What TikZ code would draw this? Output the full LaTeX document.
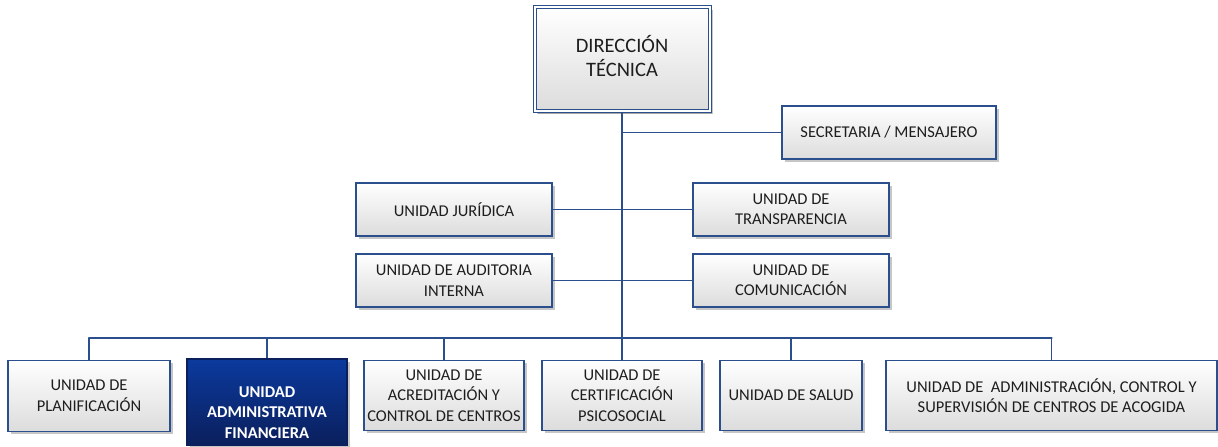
\documentclass[tikz,border=0pt]{standalone}
\usepackage{fontspec}
\setmainfont{Carlito}
\usetikzlibrary{shadows}
\definecolor{lineblue}{HTML}{2B4F8C}
\definecolor{boxgray}{HTML}{DCDCDC}
\definecolor{admtop}{HTML}{0B3A9E}
\definecolor{admbot}{HTML}{0B1F5C}
\definecolor{txt}{HTML}{1E1E1E}
\begin{document}
\begin{tikzpicture}[x=1pt,y=-1pt,
  unitbox/.style={draw=lineblue, line width=1.1pt, top color=white, bottom color=boxgray,
    text=txt, align=center, inner sep=2pt, font=\fontsize{16.5}{20.5}\selectfont,
    drop shadow={shadow xshift=2.5pt, shadow yshift=-2.5pt, opacity=0.45, fill=gray}},
  admbox/.style={unitbox, draw=admbot, top color=admtop, bottom color=admbot, text=white,
    font=\fontsize{16.5}{20.5}\selectfont\bfseries},
  dirbox/.style={unitbox, line width=1pt, double=white, double distance=2pt,
    font=\fontsize{20.5}{24}\selectfont,
    drop shadow={shadow xshift=3pt, shadow yshift=-3pt, opacity=0.45, fill=gray}},
  conn/.style={draw=lineblue, line width=1.4pt},
  trunk/.style={draw=lineblue, line width=2.8pt},
  busline/.style={draw=lineblue, line width=2.5pt, line cap=round}
]
\useasboundingbox (0,0) rectangle (1218,447);

% top
\node[dirbox, minimum width=175pt, minimum height=104pt] (dir) at (622,59) {DIRECCIÓN\\TÉCNICA\rule[-6pt]{0pt}{6pt}};
\node[unitbox, minimum width=214pt, minimum height=53pt] (sec) at (889,132.5) {SECRETARIA / MENSAJERO};

% staff units
\node[unitbox, minimum width=196pt, minimum height=53pt] (jur) at (454,209.5) {UNIDAD JURÍDICA};
\node[unitbox, minimum width=196pt, minimum height=53pt] (aud) at (454,280.5) {UNIDAD DE AUDITORIA\\INTERNA};
\node[unitbox, minimum width=196pt, minimum height=53pt] (tra) at (791,209.5) {UNIDAD DE\\TRANSPARENCIA};
\node[unitbox, minimum width=196pt, minimum height=53pt] (com) at (791,280.5) {UNIDAD DE\\COMUNICACIÓN};

% bottom row
\node[unitbox, minimum width=162pt, minimum height=71pt] (plan) at (89,396) {UNIDAD DE\\PLANIFICACIÓN};
\node[admbox, minimum width=160pt, minimum height=86pt] (adm) at (267,402) {\rule{0pt}{32pt}UNIDAD\\ADMINISTRATIVA\\FINANCIERA};
\node[unitbox, minimum width=160pt, minimum height=70pt] (acr) at (444,395.5) {UNIDAD DE\\ACREDITACIÓN Y\\CONTROL DE CENTROS};
\node[unitbox, minimum width=160pt, minimum height=70pt] (cer) at (622,395.5) {UNIDAD DE\\CERTIFICACIÓN\\PSICOSOCIAL};
\node[unitbox, minimum width=142pt, minimum height=70pt] (sal) at (791,395.5) {UNIDAD DE SALUD};
\node[unitbox, minimum width=331pt, minimum height=70pt] (acog) at (1051.5,395.5) {UNIDAD DE\ \ ADMINISTRACIÓN, CONTROL Y\\SUPERVISIÓN DE CENTROS DE ACOGIDA};

% connectors
\coordinate (busy) at (0,338);
\draw[trunk] (dir.south) -- (cer.north);
\draw[conn] (sec.west) -- (sec.west -| dir.south);
\draw[conn] (jur.east) -- (tra.west);
\draw[conn] (aud.east) -- (com.west);
\draw[busline] (plan.north |- busy) -- (acog.north |- busy);
\foreach \n in {plan,adm,acr,sal,acog}
  \draw[conn] (\n.north) -- (\n.north |- busy);
\end{tikzpicture}
\end{document}
